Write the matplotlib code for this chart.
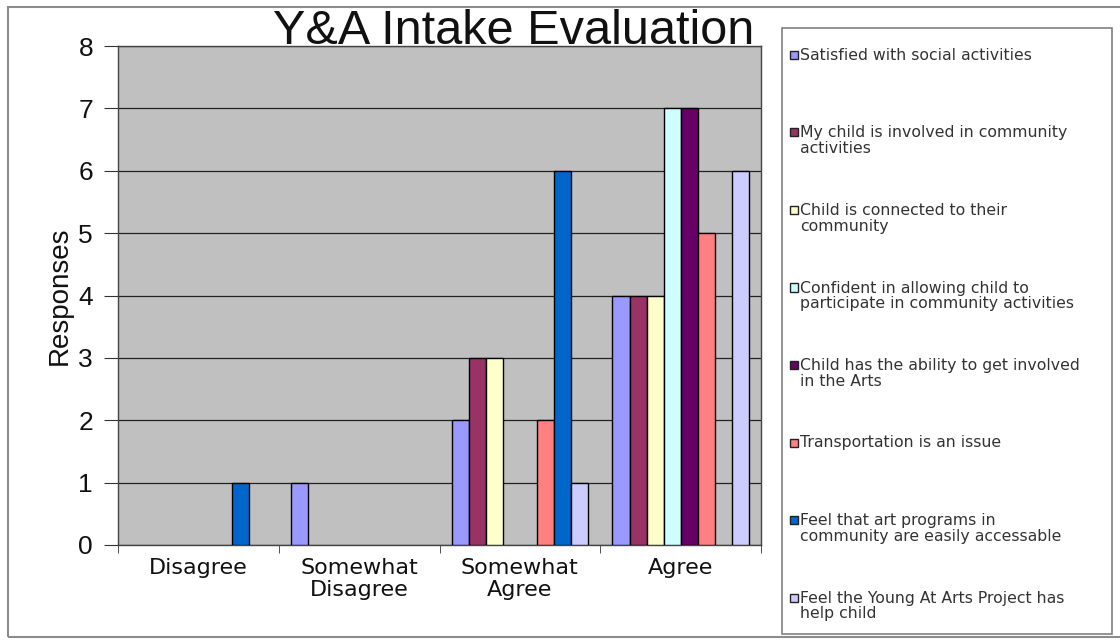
import matplotlib
matplotlib.use("Agg")
import matplotlib.pyplot as plt
from matplotlib.patches import Rectangle
import numpy as np

plt.rcParams['font.family'] = ['Liberation Sans', 'DejaVu Sans']

title = "Y&A Intake Evaluation"
ylabel = "Responses"
categories = ["Disagree", "Somewhat\nDisagree", "Somewhat\nAgree", "Agree"]
series_names = [
    "Satisfied with social activities",
    "My child is involved in community\nactivities",
    "Child is connected to their\ncommunity",
    "Confident in allowing child to\nparticipate in community activities",
    "Child has the ability to get involved\nin the Arts",
    "Transportation is an issue",
    "Feel that art programs in\ncommunity are easily accessable",
    "Feel the Young At Arts Project has\nhelp child",
]
satisfied = [0, 1, 2, 4]
involved = [0, 0, 3, 4]
connected = [0, 0, 3, 4]
confident = [0, 0, 0, 7]
ability = [0, 0, 0, 7]
transportation = [0, 0, 2, 5]
art_programs = [1, 0, 6, 0]
young_at_arts = [0, 0, 1, 6]
series_values = [satisfied, involved, connected, confident, ability,
                 transportation, art_programs, young_at_arts]
colors = ["#9999FF", "#993366", "#FFFFCC", "#CCFFFF", "#660066",
          "#FF8080", "#0066CC", "#CCCCFF"]
yticks = [0, 1, 2, 3, 4, 5, 6, 7, 8]

W, H = 1120, 641
fig = plt.figure(figsize=(W / 100, H / 100), dpi=100)
fig.patch.set_facecolor("white")

def fx(px):
    return px / W

def fy(py):
    return 1 - py / H

# outer chart frame
fig.add_artist(Rectangle((fx(8), fy(637)), fx(1130) - fx(8), fy(7) - fy(637),
                         transform=fig.transFigure, fill=False,
                         edgecolor="#8c8c8c", lw=1.5))

L, R, T, B = 118, 761, 46, 545
ax = fig.add_axes([fx(L), fy(B), fx(R) - fx(L), fy(T) - fy(B)])
ax.set_facecolor("#C0C0C0")

x = np.arange(len(categories))
n = len(series_values)
w = 0.106
for i, (vals, c) in enumerate(zip(series_values, colors)):
    v = np.array(vals, dtype=float)
    mask = v > 0
    ax.bar(x[mask] + (i - (n - 1) / 2) * w, v[mask], width=w, color=c,
           edgecolor="black", linewidth=1.0, zorder=3)

ax.set_xlim(-0.5, len(categories) - 0.5)
ax.set_ylim(0, 8)
ax.set_yticks(yticks)
ax.yaxis.grid(True, color="#222222", lw=0.9, zorder=1)
ax.set_axisbelow(True)
ax.set_xticks(x)
ax.set_xticklabels(categories, fontsize=16, linespacing=1.15, color="#111111",
                   family=['DejaVu Sans'])
ax.set_xticks(np.arange(-0.5, len(categories)), minor=True)
ax.tick_params(axis="x", which="major", length=0, pad=9)
ax.tick_params(axis="x", which="minor", length=6, direction="out", color="#333333")
ax.tick_params(axis="y", length=10, direction="out", color="#333333", pad=8)
ax.set_yticklabels([str(t) for t in yticks], color="#111111", fontsize=19,
                   family=['Liberation Sans'])
ax.set_ylabel(ylabel, fontsize=20, labelpad=4, color="#111111",
              family=['Liberation Sans'])
for s in ax.spines.values():
    s.set_color("#444444")
    s.set_linewidth(1.0)

fig.text(fx(514), fy(32), title, fontsize=35, ha="center", va="center",
         color="#111111", family=['Liberation Sans'])

# legend box
LL, LR, LT, LB = 782, 1112, 28, 634
fig.add_artist(Rectangle((fx(LL), fy(LB)), fx(LR) - fx(LL), fy(LT) - fy(LB),
                         transform=fig.transFigure, facecolor="white",
                         edgecolor="#808080", lw=1.2))
y0, dy = 55, 77.5
for i, (name, c) in enumerate(zip(series_names, colors)):
    yy = y0 + i * dy
    fig.add_artist(Rectangle((fx(790), fy(yy + 4)), fx(8), 8 / H,
                             transform=fig.transFigure, facecolor=c,
                             edgecolor="#222222", lw=1.0))
    fig.text(fx(800), fy(yy - 7), name, fontsize=11.3, ha="left", va="top",
             color="#333333", linespacing=1.05, family=['DejaVu Sans'])

fig.savefig("out.png", dpi=100)
